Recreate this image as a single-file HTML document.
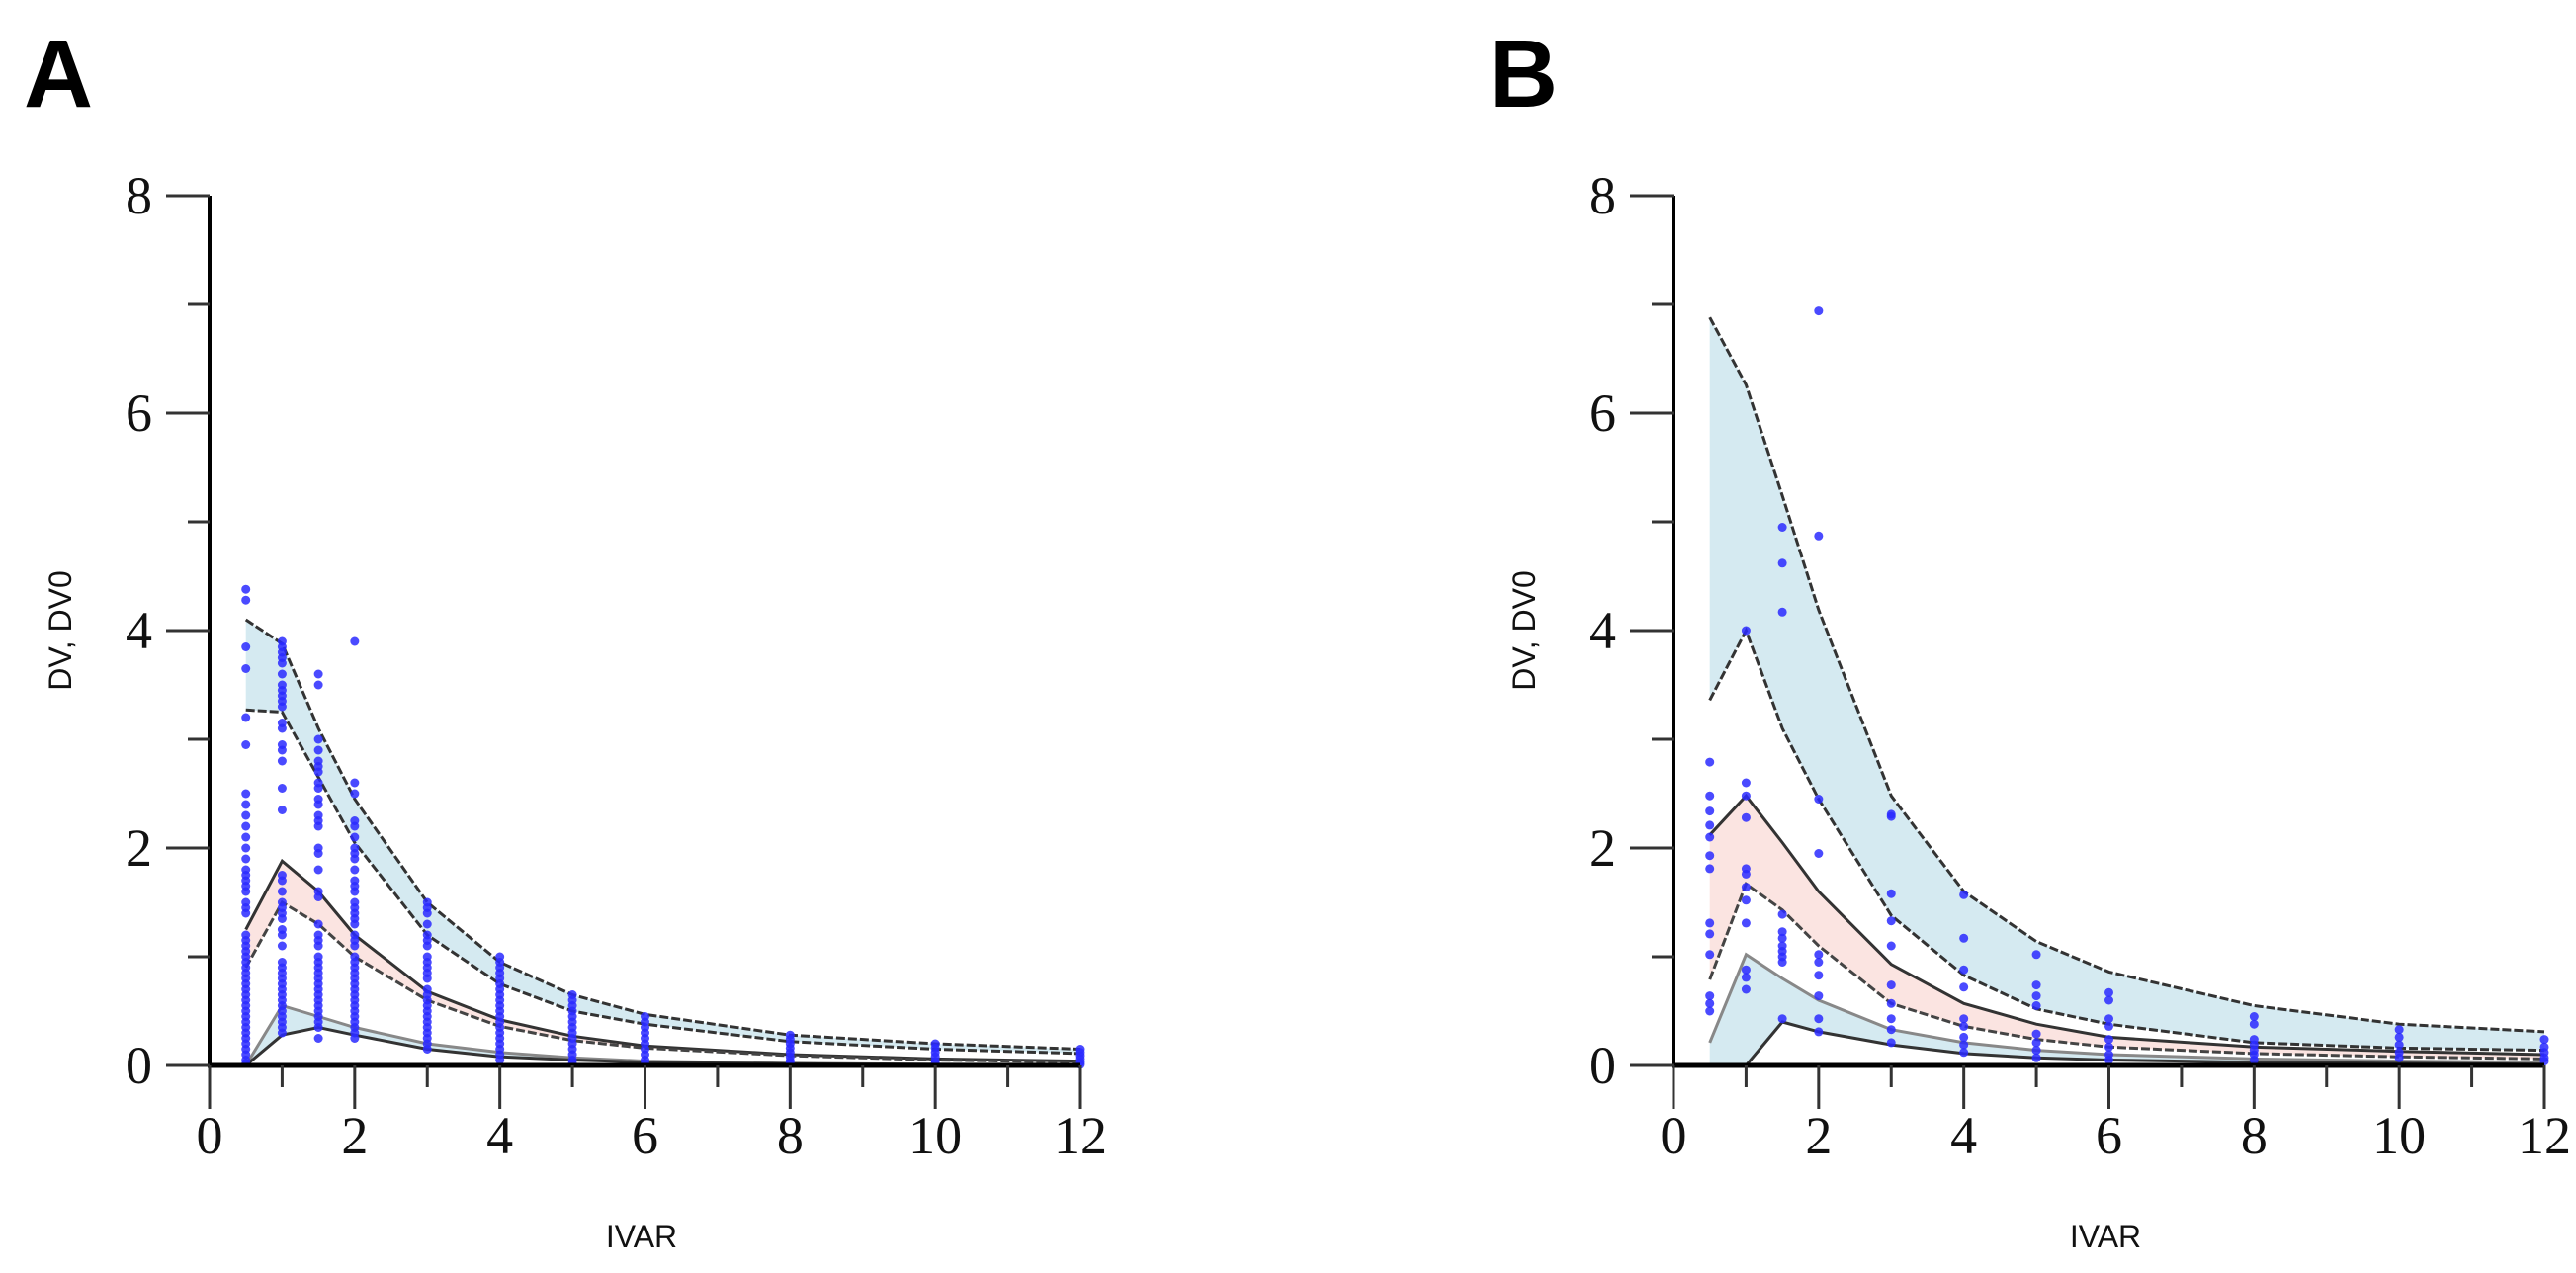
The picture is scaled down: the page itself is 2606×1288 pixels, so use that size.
<!DOCTYPE html>
<html><head><meta charset="utf-8"><style>
html,body{margin:0;padding:0;background:#fff;}
svg{display:block;}
</style></head><body>
<svg id="fig" width="2606" height="1288" viewBox="0 0 2606 1288" xmlns="http://www.w3.org/2000/svg"></svg>
<script>
const xCats = [0.5,1,1.5,2,3,4,5,6,8,10,12];
const xTicks = [0,2,4,6,8,10,12];
const yTicks = [0,2,4,6,8];
// Panel A bands
const aHiUp = [4.1,3.88,3.1,2.45,1.5,0.95,0.65,0.47,0.28,0.2,0.15];
const aHiLo = [3.27,3.25,2.65,2.05,1.2,0.75,0.5,0.38,0.22,0.15,0.11];
const aMidUp = [1.25,1.88,1.6,1.2,0.68,0.42,0.27,0.18,0.1,0.06,0.04];
const aMidLo = [0.9,1.5,1.3,1.0,0.6,0.36,0.23,0.16,0.09,0.05,0.03];
const aLowUp = [0,0.55,0.45,0.35,0.2,0.12,0.07,0.04,0.02,0.01,0.01];
const aLowLo = [0,0.28,0.35,0.28,0.15,0.08,0.05,0.03,0.015,0.01,0.005];
// Panel B bands
const bHiUp = [6.88,6.26,5.24,4.19,2.48,1.6,1.14,0.86,0.55,0.38,0.31];
const bHiLo = [3.36,4.0,3.1,2.45,1.38,0.83,0.52,0.38,0.21,0.16,0.14];
const bMidUp = [2.12,2.48,2.05,1.6,0.93,0.57,0.38,0.26,0.17,0.13,0.1];
const bMidLo = [0.79,1.67,1.43,1.1,0.57,0.36,0.24,0.17,0.11,0.08,0.06];
const bLowUp = [0.21,1.02,0.8,0.6,0.33,0.21,0.14,0.1,0.06,0.04,0.03];
const bLowLo = [0,0,0.4,0.31,0.19,0.11,0.07,0.05,0.03,0.02,0.01];
// Observations
const aObsX = [0.5,1,1.5,2,3,4,5,6,8,10,12];
const aObs = [
 [4.38,4.28,3.85,3.65,3.2,2.95,2.5,2.4,2.3,2.2,2.1,2.0,1.9,1.8,1.75,1.7,1.65,1.6,1.5,1.45,1.4,1.2,1.15,1.1,1.05,1.0,0.95,0.9,0.85,0.8,0.75,0.7,0.65,0.6,0.55,0.5,0.45,0.4,0.35,0.3,0.25,0.2,0.15,0.1,0.05,0.02],
 [3.9,3.85,3.8,3.75,3.7,3.6,3.5,3.45,3.4,3.35,3.3,3.15,3.1,2.95,2.9,2.8,2.55,2.35,1.75,1.7,1.6,1.5,1.45,1.4,1.35,1.25,1.2,1.1,0.95,0.9,0.85,0.8,0.75,0.7,0.65,0.6,0.55,0.5,0.45,0.4,0.35,0.3],
 [3.6,3.5,3.0,2.9,2.8,2.75,2.7,2.6,2.55,2.45,2.4,2.3,2.25,2.2,2.0,1.95,1.8,1.6,1.55,1.3,1.2,1.15,1.1,1.0,0.95,0.9,0.85,0.8,0.75,0.7,0.65,0.6,0.55,0.5,0.45,0.4,0.35,0.25],
 [3.9,2.6,2.5,2.25,2.2,2.1,2.0,1.95,1.9,1.8,1.7,1.65,1.6,1.5,1.45,1.4,1.35,1.3,1.2,1.15,1.1,1.0,0.95,0.9,0.85,0.8,0.75,0.7,0.65,0.6,0.55,0.5,0.45,0.4,0.35,0.3,0.25],
 [1.5,1.45,1.4,1.3,1.2,1.15,1.1,1.0,0.95,0.9,0.85,0.8,0.7,0.65,0.6,0.55,0.5,0.45,0.4,0.35,0.3,0.25,0.2,0.15],
 [1.0,0.95,0.9,0.85,0.8,0.75,0.7,0.65,0.6,0.55,0.5,0.45,0.4,0.35,0.3,0.25,0.2,0.15,0.1,0.05],
 [0.65,0.6,0.55,0.5,0.45,0.4,0.35,0.3,0.25,0.2,0.15,0.1,0.05,0.02],
 [0.45,0.4,0.35,0.3,0.25,0.2,0.15,0.1,0.05,0.02],
 [0.28,0.24,0.2,0.16,0.12,0.08,0.04,0.02],
 [0.2,0.16,0.12,0.08,0.04,0.02],
 [0.15,0.12,0.09,0.06,0.03,0.01]
];
const bObsX = [0.5,1,1.5,2,3,4,5,6,8,10,12];
const bObs = [
 [2.79,2.48,2.34,2.21,2.1,1.93,1.81,1.31,1.21,1.02,0.64,0.57,0.5],
 [4.0,2.6,2.48,2.28,1.81,1.76,1.64,1.52,1.31,0.88,0.81,0.7],
 [4.95,4.62,4.17,1.39,1.23,1.17,1.1,1.05,1.0,0.95,0.43],
 [6.94,4.87,2.45,1.95,1.02,0.95,0.83,0.64,0.43,0.31],
 [2.31,2.29,1.58,1.33,1.1,0.74,0.57,0.43,0.33,0.21],
 [1.57,1.17,0.88,0.72,0.43,0.36,0.26,0.19,0.12],
 [1.02,0.74,0.64,0.55,0.29,0.21,0.14,0.07],
 [0.67,0.6,0.43,0.36,0.24,0.17,0.1,0.05],
 [0.45,0.38,0.24,0.19,0.14,0.1,0.05],
 [0.33,0.26,0.19,0.12,0.07],
 [0.24,0.17,0.12,0.07,0.04]
];

const NS = "http://www.w3.org/2000/svg";
const svg = document.getElementById('fig');
function mk(tag, attrs, parent){
  const e = document.createElementNS(NS, tag);
  for (const k in attrs) e.setAttribute(k, attrs[k]);
  (parent||svg).appendChild(e);
  return e;
}
function panel(key, x0, letter, letterX, bands, obsX, obs){
  const g = mk('g', {});
  
  
  const y0 = 1078, yTop = 198, xEnd = x0 + 881;
  const sx = v => x0 + v * (xEnd - x0) / 12;
  const sy = v => y0 - v * (y0 - yTop) / 8;
  const poly = (up, lo, fill, name) => {
    let pts = xCats.map((x,i)=>sx(x)+','+sy(up[i]));
    for (let i = xCats.length-1; i >= 0; i--) pts.push(sx(xCats[i])+','+sy(lo[i]));
    const p = mk('polygon', {points: pts.join(' '), fill: fill, stroke: 'none'}, g);
    
    
  };
  const line = (vals, stroke, dash, name, w) => {
    const p = mk('polyline', {points: xCats.map((x,i)=>sx(x)+','+sy(vals[i])).join(' '), fill: 'none', stroke: stroke, 'stroke-width': w||3, 'stroke-dasharray': dash||'none'}, g);
    
    
  };
  poly(bands[0], bands[1], '#d5eaf1', 'upper-pi-band');
  poly(bands[2], bands[3], '#fbe4e1', 'median-pi-band');
  poly(bands[4], bands[5], '#d5eaf1', 'lower-pi-band');
  line(bands[0], '#333', '9,3', 'upper-band-top-line');
  line(bands[1], '#333', '9,3', 'upper-band-bottom-line');
  line(bands[2], '#333', '', 'median-band-top-line');
  line(bands[3], '#444', '9,3', 'median-band-bottom-line');
  line(bands[4], '#888', '', 'lower-band-top-line');
  line(bands[5], '#333', '', 'lower-band-bottom-line');
  // points
  obsX.forEach((x,i)=>{
    obs[i].forEach(v=>{
      const c = mk('circle', {cx: sx(x), cy: sy(v), r: 4.5, fill: '#2a2aff', 'fill-opacity': 0.85}, g);
      
      
    });
  });
  // axes
  const ya = mk('line', {x1: x0, y1: yTop, x2: x0, y2: y0+2, stroke: '#000', 'stroke-width': 4}, g);
  
  
  const xa = mk('line', {x1: x0-2, y1: y0, x2: xEnd, y2: y0, stroke: '#000', 'stroke-width': 5}, g);
  
  
  for (let v = 0; v <= 8; v++) {
    const major = v % 2 === 0;
    const t = mk('line', {x1: x0 - (major?44:22), y1: sy(v), x2: x0, y2: sy(v), stroke: '#333', 'stroke-width': 3}, g);
    
    
  }
  yTicks.forEach(v=>{
    const t = mk('text', {x: x0-58, y: sy(v)+18, 'text-anchor': 'end', 'font-family': 'Liberation Serif, serif', 'font-size': 54, fill: '#111'}, g);
    t.textContent = v;
    
    
  });
  for (let v = 0; v <= 12; v++) {
    const major = v % 2 === 0;
    const t = mk('line', {x1: sx(v), y1: y0, x2: sx(v), y2: y0 + (major?44:22), stroke: '#333', 'stroke-width': 3}, g);
    
    
  }
  xTicks.forEach(v=>{
    const t = mk('text', {x: sx(v), y: 1167, 'text-anchor': 'middle', 'font-family': 'Liberation Serif, serif', 'font-size': 54, fill: '#111'}, g);
    t.textContent = v;
    
    
  });
  const yl = mk('text', {x: 0, y: 0, transform: 'translate(' + (x0-140) + ',638) rotate(-90)', 'text-anchor': 'middle', 'font-family': 'Liberation Sans, sans-serif', 'font-size': 32, fill: '#111'}, g);
  yl.textContent = 'DV, DV0';
  
  
  const xl = mk('text', {x: x0+437, y: 1262, 'text-anchor': 'middle', 'font-family': 'Liberation Sans, sans-serif', 'font-size': 32, fill: '#111'}, g);
  xl.textContent = 'IVAR';
  
  
  const lt = mk('text', {x: letterX, y: 108, 'font-family': 'Liberation Sans, sans-serif', 'font-weight': 'bold', 'font-size': 97, fill: '#000'}, g);
  lt.textContent = letter;
  
  
}
panel('a', 212, 'A', 24, [aHiUp,aHiLo,aMidUp,aMidLo,aLowUp,aLowLo], aObsX, aObs);
panel('b', 1693, 'B', 1506, [bHiUp,bHiLo,bMidUp,bMidLo,bLowUp,bLowLo], bObsX, bObs);
</script>
</body></html>
